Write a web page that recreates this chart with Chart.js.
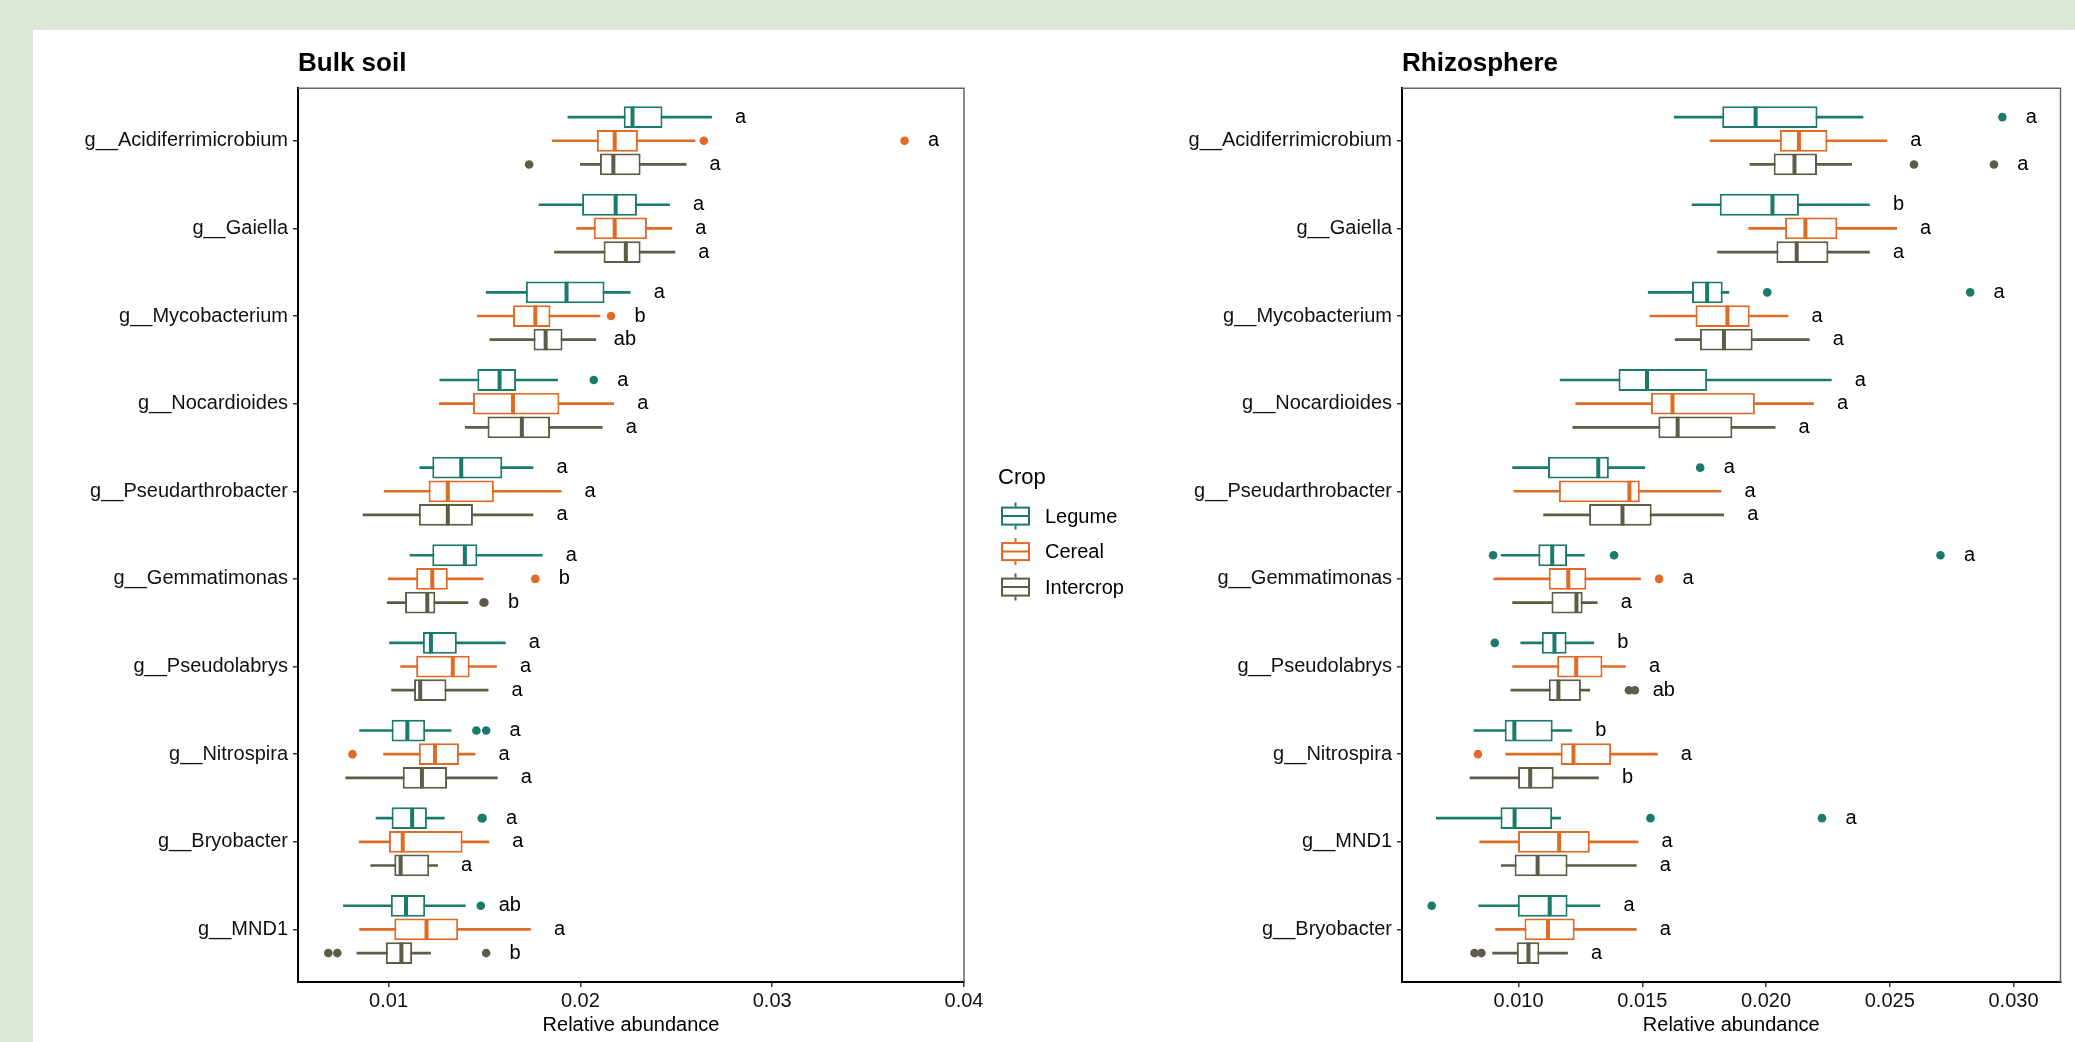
<!DOCTYPE html>
<html>
<head>
<meta charset="utf-8">
<script src="https://cdn.jsdelivr.net/npm/chart.js@4.4.0/dist/chart.umd.min.js"></script>
<style>
  html, body { margin: 0; padding: 0; }
  body { background: #dce8d5; width: 2075px; height: 1042px; overflow: hidden; position: relative; }
  #sheet { position: absolute; left: 33px; top: 30px; width: 2042px; height: 1012px; background: #fff; }
  #bulk { position: absolute; left: 0; top: 0; }
  #rhizo { position: absolute; left: 1127px; top: 0; }
</style>
</head>
<body>
<div id="sheet">
  <canvas id="bulk" width="1127" height="1012"></canvas>
  <canvas id="rhizo" width="915" height="1012"></canvas>
</div>
<script>
var crops = ['Legume', 'Cereal', 'Intercrop'];
var cropColors = ['#1a7a6b', '#e06b27', '#5e5b47'];
var cropShift = [-0.27, 0, 0.27];

// ---- Bulk soil ----
var bulkGenera = ['g__Acidiferrimicrobium', 'g__Gaiella', 'g__Mycobacterium', 'g__Nocardioides', 'g__Pseudarthrobacter',
  'g__Gemmatimonas', 'g__Pseudolabrys', 'g__Nitrospira', 'g__Bryobacter', 'g__MND1'];
var bulkTicks = [0.01, 0.02, 0.03, 0.04];
var bulkTickLabels = ['0.01', '0.02', '0.03', '0.04'];

// [lower whisker, Q1, median, Q3, upper whisker]
var bulkLegume = [
  [0.01935, 0.02226, 0.02272, 0.02428, 0.02684],
  [0.01784, 0.02009, 0.02184, 0.02295, 0.02465],
  [0.01509, 0.01716, 0.01928, 0.02126, 0.0226],
  [0.01267, 0.01463, 0.01579, 0.01665, 0.01881],
  [0.01163, 0.01228, 0.01379, 0.01593, 0.01753],
  [0.01112, 0.01228, 0.01398, 0.01463, 0.01802],
  [0.01005, 0.01179, 0.01221, 0.01356, 0.01609],
  [0.00849, 0.01016, 0.01098, 0.01191, 0.01326],
  [0.00935, 0.01016, 0.01123, 0.012, 0.01291],
  [0.00765, 0.01012, 0.01091, 0.01191, 0.014]
];
var bulkCereal = [
  [0.01853, 0.02086, 0.02179, 0.0230, 0.02598],
  [0.01981, 0.0207, 0.02179, 0.02347, 0.02477],
  [0.01463, 0.01649, 0.01765, 0.01844, 0.02102],
  [0.01265, 0.0144, 0.01649, 0.01891, 0.02174],
  [0.00977, 0.01209, 0.01309, 0.01549, 0.019],
  [0.00998, 0.01144, 0.01228, 0.01309, 0.01493],
  [0.01063, 0.01144, 0.01335, 0.01423, 0.01563],
  [0.00974, 0.01158, 0.01242, 0.01367, 0.01451],
  [0.00847, 0.01002, 0.01074, 0.01386, 0.01523],
  [0.00849, 0.0103, 0.01198, 0.01363, 0.0174]
];
var bulkIntercrop = [
  [0.0200, 0.02102, 0.02172, 0.02314, 0.02551],
  [0.01865, 0.02121, 0.02237, 0.02314, 0.02493],
  [0.01528, 0.01756, 0.01819, 0.01907, 0.02081],
  [0.014, 0.01516, 0.01695, 0.01842, 0.02114],
  [0.00867, 0.01158, 0.01309, 0.0144, 0.01753],
  [0.00993, 0.01086, 0.01202, 0.01244, 0.01414],
  [0.01016, 0.01133, 0.01165, 0.01302, 0.01519],
  [0.00777, 0.01074, 0.01174, 0.01305, 0.01567],
  [0.00907, 0.0103, 0.01063, 0.01212, 0.01256],
  [0.00835, 0.00986, 0.01067, 0.01123, 0.01219]
];
var bulkLegumeOut = [[], [], [], [0.0207], [], [], [], [0.01458, 0.01509], [0.01486, 0.0149], [0.01481]];
var bulkCerealOut = [[0.02644, 0.0369], [], [0.0216], [], [], [0.01765], [], [0.00812], [], []];
var bulkIntercropOut = [[0.01733], [], [], [], [], [0.01495, 0.015], [], [], [], [0.00686, 0.00733, 0.01509]];
var bulkLegumeSig = ['a', 'a', 'a', 'a', 'a', 'a', 'a', 'a', 'a', 'ab'];
var bulkCerealSig = ['a', 'a', 'b', 'a', 'a', 'b', 'a', 'a', 'a', 'a'];
var bulkIntercropSig = ['a', 'a', 'ab', 'a', 'a', 'b', 'a', 'a', 'a', 'b'];

// ---- Rhizosphere ----
var rhizoGenera = ['g__Acidiferrimicrobium', 'g__Gaiella', 'g__Mycobacterium', 'g__Nocardioides', 'g__Pseudarthrobacter',
  'g__Gemmatimonas', 'g__Pseudolabrys', 'g__Nitrospira', 'g__MND1', 'g__Bryobacter'];
var rhizoTicks = [0.010, 0.015, 0.020, 0.025, 0.030];
var rhizoTickLabels = ['0.010', '0.015', '0.020', '0.025', '0.030'];

var rhizoLegume = [
  [0.01629, 0.01823, 0.01958, 0.02208, 0.02392],
  [0.01701, 0.01813, 0.02026, 0.02133, 0.02418],
  [0.01524, 0.01701, 0.01762, 0.01825, 0.0185],
  [0.01168, 0.01404, 0.01519, 0.01762, 0.02264],
  [0.00976, 0.01119, 0.01322, 0.01365, 0.0151],
  [0.0093, 0.0108, 0.01136, 0.01196, 0.01266],
  [0.01009, 0.01094, 0.01145, 0.01194, 0.01304],
  [0.0082, 0.00944, 0.00983, 0.01138, 0.01215],
  [0.00668, 0.00927, 0.00984, 0.01136, 0.0117],
  [0.00839, 0.00997, 0.01126, 0.01198, 0.01329]
];
var rhizoCereal = [
  [0.01774, 0.02056, 0.02133, 0.02248, 0.02488],
  [0.0193, 0.02077, 0.02159, 0.02288, 0.02528],
  [0.01531, 0.01715, 0.01844, 0.01934, 0.02089],
  [0.01231, 0.01535, 0.01622, 0.01955, 0.02192],
  [0.00981, 0.01163, 0.01448, 0.0149, 0.01818],
  [0.009, 0.01122, 0.01201, 0.01274, 0.01493],
  [0.00976, 0.01156, 0.01233, 0.01339, 0.01432],
  [0.00948, 0.0117, 0.01222, 0.01374, 0.01561],
  [0.00843, 0.00998, 0.01164, 0.01288, 0.01483],
  [0.00907, 0.01024, 0.01119, 0.01227, 0.01476]
];
var rhizoIntercrop = [
  [0.01935, 0.02031, 0.02115, 0.02206, 0.02346],
  [0.01804, 0.02042, 0.02124, 0.02252, 0.02418],
  [0.01633, 0.01733, 0.0183, 0.01946, 0.02175],
  [0.01219, 0.01565, 0.01643, 0.01864, 0.02037],
  [0.01101, 0.01285, 0.0142, 0.01538, 0.01829],
  [0.00976, 0.01133, 0.01234, 0.01259, 0.01318],
  [0.00969, 0.01122, 0.01161, 0.01252, 0.01288],
  [0.00804, 0.00998, 0.01047, 0.01142, 0.01323],
  [0.0093, 0.00984, 0.01077, 0.01198, 0.01476],
  [0.00895, 0.00993, 0.0104, 0.01084, 0.01198]
];
var rhizoLegumeOut = [[0.02955], [], [0.02005, 0.02825], [], [0.01734], [0.00897, 0.01386, 0.02705], [0.00904], [], [0.01533, 0.02226], [0.00649]];
var rhizoCerealOut = [[], [], [], [], [], [0.01568], [], [0.00836], [], []];
var rhizoIntercropOut = [[0.02598, 0.02921], [], [], [], [], [], [0.01446, 0.0147], [], [], [0.00822, 0.0085]];
var rhizoLegumeSig = ['a', 'b', 'a', 'a', 'a', 'a', 'b', 'b', 'a', 'a'];
var rhizoCerealSig = ['a', 'a', 'a', 'a', 'a', 'a', 'a', 'a', 'a', 'a'];
var rhizoIntercropSig = ['a', 'a', 'a', 'a', 'a', 'a', 'ab', 'b', 'a', 'a'];

var fontFamily = '"Liberation Sans", Arial, Helvetica, sans-serif';
Chart.defaults.font.family = fontFamily;
Chart.defaults.font.size = 20;
Chart.defaults.color = '#111';

// grey top/right edges of the panel
var panelFrame = {
  id: 'panelFrame',
  afterDatasetsDraw: function(chart) {
    var a = chart.chartArea, ctx = chart.ctx;
    ctx.save();
    ctx.strokeStyle = '#666';
    ctx.lineWidth = 1.5;
    ctx.beginPath();
    ctx.moveTo(a.left, a.top);
    ctx.lineTo(a.right, a.top);
    ctx.lineTo(a.right, a.bottom);
    ctx.stroke();
    ctx.restore();
  }
};

var cropLegend = {
  id: 'cropLegend',
  afterDraw: function(chart) {
    var a = chart.chartArea, ctx = chart.ctx;
    var x0 = a.right + 37;
    var yc = (a.top + a.bottom) / 2;
    ctx.save();
    ctx.fillStyle = '#000';
    ctx.textAlign = 'left';
    ctx.textBaseline = 'middle';
    ctx.font = '22px ' + fontFamily;
    ctx.fillText('Crop', a.right + 34, yc - 57);
    ctx.font = '20px ' + fontFamily;
    crops.forEach(function(name, c) {
      var cy = yc - 19 + c * 35.5;
      ctx.strokeStyle = cropColors[c];
      ctx.lineWidth = 2;
      ctx.fillStyle = '#fff';
      ctx.fillRect(x0, cy - 9.5, 29, 19);
      ctx.strokeRect(x0 + 1, cy - 8.5, 27, 17);
      ctx.beginPath();
      ctx.moveTo(x0, cy); ctx.lineTo(x0 + 29, cy);
      ctx.moveTo(x0 + 14.5, cy - 13.5); ctx.lineTo(x0 + 14.5, cy - 9.5);
      ctx.moveTo(x0 + 14.5, cy + 9.5); ctx.lineTo(x0 + 14.5, cy + 13.5);
      ctx.stroke();
      ctx.fillStyle = '#000';
      ctx.fillText(name, x0 + 44, cy + 1);
    });
    ctx.restore();
  }
};

function makePanel(canvasId, title, genera, stats, outs, sigs, ticks, tickLabels, xMin, xMax, yAxisWidth, padRight, extraPlugins) {
  var datasets = [];
  stats.forEach(function(st, c) {
    var shift = cropShift[c];
    datasets.push({
      type: 'scatter', order: 0,
      data: st.map(function(s, i) { return {x: s[2], y: i + shift}; }),
      pointStyle: 'line', pointRotation: 90, pointRadius: 10.5,
      pointBorderWidth: 4, pointBorderColor: cropColors[c], pointBackgroundColor: cropColors[c],
      borderColor: cropColors[c]
    });
    var outPts = [];
    outs[c].forEach(function(vals, i) {
      vals.forEach(function(v) { outPts.push({x: v, y: i + shift}); });
    });
    datasets.push({
      type: 'scatter', order: 1,
      data: outPts,
      pointRadius: 4.3, pointBorderWidth: 0,
      pointBackgroundColor: cropColors[c], pointBorderColor: cropColors[c]
    });
    datasets.push({
      type: 'bar', order: 2, indexAxis: 'y', grouped: false,
      data: st.map(function(s, i) { return {x: [s[1], s[3]], y: i + shift}; }),
      backgroundColor: '#fff', borderColor: cropColors[c], borderWidth: 2, borderSkipped: false,
      categoryPercentage: 1, barPercentage: 0.92
    });
    datasets.push({
      type: 'bar', order: 3, indexAxis: 'y', grouped: false,
      data: st.map(function(s, i) { return {x: [s[0], s[4]], y: i + shift}; }),
      backgroundColor: cropColors[c], borderWidth: 0, barThickness: 2
    });
  });

  var sigLetters = {
    id: 'sigLetters',
    afterDatasetsDraw: function(chart) {
      var xs = chart.scales.x, ys = chart.scales.y, ctx = chart.ctx;
      ctx.save();
      ctx.font = '20px ' + fontFamily;
      ctx.fillStyle = '#000';
      ctx.textAlign = 'center';
      ctx.textBaseline = 'middle';
      stats.forEach(function(st, c) {
        st.forEach(function(s, i) {
          var top = Math.max.apply(null, [s[4]].concat(outs[c][i]));
          ctx.fillText(sigs[c][i], xs.getPixelForValue(top) + 29, ys.getPixelForValue(i + cropShift[c]));
        });
      });
      ctx.restore();
    }
  };

  return new Chart(document.getElementById(canvasId), {
    type: 'bar',
    data: { datasets: datasets },
    options: {
      responsive: false,
      animation: false,
      indexAxis: 'y',
      layout: { padding: { left: 0, right: padRight, top: 0, bottom: 0 } },
      plugins: {
        legend: { display: false },
        tooltip: { enabled: false },
        title: {
          display: true, text: title, align: 'start', fullSize: false, color: '#000',
          font: { size: 26, weight: 'bold' }, padding: { top: 18, bottom: 9 }
        }
      },
      scales: {
        x: {
          type: 'linear', position: 'bottom', min: xMin, max: xMax, offset: false,
          afterBuildTicks: function(s) { s.ticks = ticks.map(function(v) { return {value: v}; }); },
          afterFit: function(s) { s.height = 60; },
          ticks: { autoSkip: false, maxRotation: 0, padding: 2, color: '#111',
            callback: function(v, i) { return tickLabels[i]; } },
          grid: { display: true, drawOnChartArea: false, drawTicks: true, tickLength: 5, color: '#333', lineWidth: 1.5 },
          border: { display: true, color: '#000', width: 2 },
          title: { display: true, text: 'Relative abundance', color: '#000', font: { size: 20 }, padding: { top: 0, bottom: 5 } }
        },
        y: {
          type: 'linear', position: 'left', reverse: true, min: -0.6, max: 9.6, offset: false,
          afterBuildTicks: function(s) { s.ticks = genera.map(function(g, i) { return {value: i}; }); },
          afterFit: function(s) { s.width = yAxisWidth; },
          ticks: { autoSkip: false, padding: 5, color: '#111',
            callback: function(v) { return genera[v]; } },
          grid: { display: true, offset: false, drawOnChartArea: false, drawTicks: true, tickLength: 5, color: '#333', lineWidth: 1.5 },
          border: { display: true, color: '#000', width: 2 }
        }
      }
    },
    plugins: [panelFrame, sigLetters].concat(extraPlugins)
  });
}

makePanel('bulk', 'Bulk soil', bulkGenera,
  [bulkLegume, bulkCereal, bulkIntercrop],
  [bulkLegumeOut, bulkCerealOut, bulkIntercropOut],
  [bulkLegumeSig, bulkCerealSig, bulkIntercropSig],
  bulkTicks, bulkTickLabels, 0.00528, 0.04, 265, 196, [cropLegend]);

makePanel('rhizo', 'Rhizosphere', rhizoGenera,
  [rhizoLegume, rhizoCereal, rhizoIntercrop],
  [rhizoLegumeOut, rhizoCerealOut, rhizoIntercropOut],
  [rhizoLegumeSig, rhizoCerealSig, rhizoIntercropSig],
  rhizoTicks, rhizoTickLabels, 0.00529, 0.0319, 242, 8, []);
</script>
</body>
</html>
